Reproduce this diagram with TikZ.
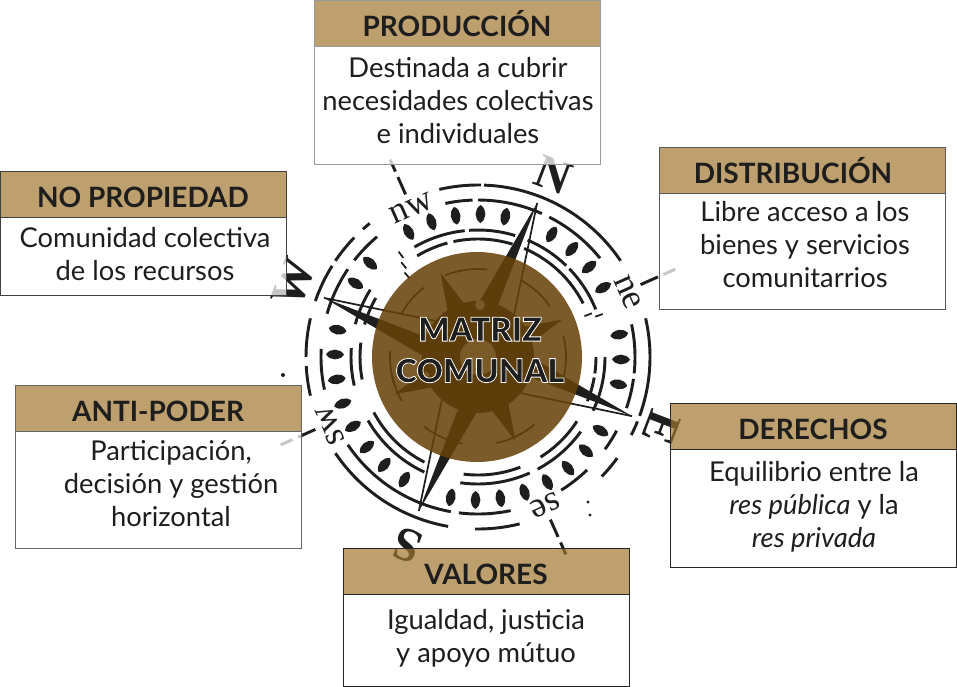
\documentclass[tikz,border=0pt]{standalone}
\usepackage{fontspec}
\setmainfont{Lato}
\newfontfamily\stampfont{Liberation Serif}
\newfontfamily\heavyfont{Lato Black}
\usetikzlibrary{positioning}
\definecolor{tan}{RGB}{161,119,49}
\definecolor{ink}{RGB}{30,30,30}
\definecolor{disc}{RGB}{103,67,9}
\newcommand{\outlined}[1]{\special{pdf:code q 2 Tr 0.6 w 1 1 1 RG}#1\special{pdf:code Q}}

\begin{document}
\begin{tikzpicture}[
    x=0.75pt,y=-0.75pt,
    stamp/.style={ink,line width=2.2pt},
    thin stamp/.style={ink,line width=1.3pt},
    head/.style={rectangle,fill=tan,fill opacity=0.7,text opacity=1,draw=#1,line width=0.75pt,inner sep=0pt,outer sep=0pt,
        minimum width=214.5pt,minimum height=34.5pt,text=ink,text height=22pt,text depth=2.5pt,font=\fontsize{21}{25}\selectfont\bfseries},
    frame/.style={rectangle,fill=white,fill opacity=0.75,draw=#1,line width=0.75pt,inner sep=0pt,outer sep=0pt,minimum width=214.5pt},
    body/.style={align=center,text=ink,inner sep=0pt,font=\fontsize{20.5}{24.75}\selectfont},
    letter/.style={ink,inner sep=0pt,font=\fontsize{#1}{#1}\stampfont},
    big letter/.style={ink,inner sep=0pt,font=\fontsize{36}{36}\stampfont\bfseries}
]
    \useasboundingbox (0,0) rectangle (957,686);

    % Compass stamp
    \begin{scope}[shift={(478,357)},x=0.75pt,y=0.75pt]
        % Rings
        \foreach \r/\s/\e in {172/103/89, 172/88/34, 172/13/-20, 172/-22/-27, 172/-36/-44, 172/-76/-91, 172/-100/-146,
            172/193/183, 172/180/167, 172/161/148, 172/146/136, 172/132/129,
            157/102/92, 157/90/66, 157/63/39, 157/12/-6, 157/-8/-19, 157/-28/-36, 157/-46/-58, 157/-78/-97, 157/-100/-146,
            157/192/177, 157/164/146, 157/142/130} {
            \draw[stamp] (\s:\r) arc[start angle=\s,end angle=\e,radius=\r];
        }
        \foreach \r/\s/\e in {127/120/96, 127/94/73, 127/67/46, 127/44/22, 127/0/-25, 127/-36/-62, 127/-66/-98, 127/-115/-150, 127/-167/-184, 127/165/148,
            118/121/105, 118/102/73, 118/67/27, 118/0/-8, 118/-10/-22, 118/-33/-58, 118/-69/-97, 118/-117/-152, 118/-169/-187, 118/164/150} {
            \draw[stamp] (\s:\r) arc[start angle=\s,end angle=\e,radius=\r];
        }

        % Leaves between the rings
        \foreach \a in {119,109,99,89,79,59,49,39,29,9,-1,-11,-31,-41,-51,-61,-71,-81,-91,-101,-121,-131,-141,-151,-161,-171,179,169,149,139} {
            \fill[ink,rotate=\a] (134,0) .. controls (138,6.5) and (148,6.5) .. (152,0) .. controls (148,-6.5) and (138,-6.5) .. (134,0);
        }

        % Loose marks
        \fill[ink] (-195,-18) circle (2);
        \fill[ink] (110,-145) circle (1.6);
        \fill[ink] (112,-158) circle (1.6);
        \foreach \a/\r in {129/118, 127/128, 131/108, 19/128, 21/118} {
            \draw[thin stamp,rotate=\a] (\r-4,0) -- (\r+4,0);
        }

        % Main needles
        \foreach \a in {69,-21,-111,159} {
            \fill[ink,rotate=\a] (165,0) -- (25,23) -- (25,0) -- cycle;
            \draw[thin stamp,rotate=\a] (165,0) -- (25,-23);
        }
        % Small needles and core
        \foreach \a in {24,114,204,-66} {
            \fill[ink,rotate=\a] (92,0) -- (50,10) -- (50,-10) -- cycle;
        }
        \fill[ink] (0,0) circle (56);
        \fill[white] (0,0) circle (18);
        \fill[white] (2,52) circle (5);
        \fill[white] (-52,-18) circle (3);
        \foreach \s/\e in {150/128, 112/84, 60/35, 14/-20, -50/-78, -100/-128, -150/-170, 200/176} {
            \draw[thin stamp] (\s:88) arc[start angle=\s,end angle=\e,radius=88];
        }

        % Brown disc over the stamp
        \fill[disc,fill opacity=0.87] (-1,0) circle (105);

        % Ticks and lettering
        \foreach \a in {114,24,-66,204} {
            \draw[stamp] (\a:178) -- (\a:197);
            \draw[stamp] (\a:203) -- (\a:216);
        }
        \node[big letter,rotate=-21] (north) at (67.6:197) {N};
        \node[big letter,rotate=-111] (east) at (-21.3:197) {E};
        \node[big letter,rotate=159] (south) at (249.3:201) {S};
        \node[big letter,rotate=69] (west) at (158:199) {W};
        \node[letter=27,rotate=24] (nw) at (114:163) {nw};
        \node[letter=27,rotate=-66] (ne) at (23.4:163) {ne};
        \node[letter=27,rotate=-156] (se) at (-65.6:163) {se};
        \node[letter=27,rotate=114] (sw) at (205:163) {sw};
    \end{scope}

    % Centre title
    \node[ink,align=center,inner sep=0pt,font=\fontsize{24.5}{31}\heavyfont] (title) at (480,350)
        {\outlined{MATRIZ}\\\outlined{COMUNAL}};

    %%%%%%%%%%%%%%%%%%%%%%%%%%%%%%%%%%%%%%%%%%%%%%%%%%%%%%%%%%%%%%%%%%%%%%%%%%%%%%%%%%%%

    % Boxes
    \node[head=black!40,anchor=north west] (prodhead) at (314,0) {PRODUCCIÓN};
    \node[frame=black!40,minimum height=88.5pt,below=0pt of prodhead] (prodframe) {};
    \node[body] (prodtext) at (458,101) {Destinada a cubrir\\necesidades colectivas\\e individuales};

    \node[head=black!65,anchor=north west] (disthead) at (659,147) {\hspace*{-13.5pt}DISTRIBUCIÓN};
    \node[frame=black!65,minimum height=87pt,below=0pt of disthead] (distframe) {};
    \node[body] (disttext) at (805,245) {Libre acceso a los\\bienes y servicios\\comunitarrios};

    \node[head=black!75,anchor=north west] (nophead) at (0,171) {NO PROPIEDAD};
    \node[frame=black!75,minimum height=58.5pt,below=0pt of nophead] (nopframe) {};
    \node[body] (noptext) at (145,254.5) {Comunidad colectiva\\de los recursos};

    \node[head=black!60,anchor=north west] (antihead) at (15,385) {ANTI-PODER};
    \node[frame=black!60,minimum height=87.75pt,below=0pt of antihead] (antiframe) {};
    \node[body] (antitext) at (171,484) {Participación,\\decisión y gestión\\horizontal};

    \node[head=black!85,anchor=north west] (derhead) at (670,403) {DERECHOS};
    \node[frame=black!85,minimum height=88.5pt,below=0pt of derhead] (derframe) {};
    \node[body] (dertext) at (814,507) {Equilibrio entre la\\\textit{res pública} y la\\\textit{res privada}};

    \node[head=black!85,anchor=north west] (valhead) at (343,548) {VALORES};
    \node[frame=black!85,minimum height=69pt,below=0pt of valhead] (valframe) {};
    \node[body] (valtext) at (486,638) {Igualdad, justicia\\y apoyo mútuo};
\end{tikzpicture}
\end{document}
